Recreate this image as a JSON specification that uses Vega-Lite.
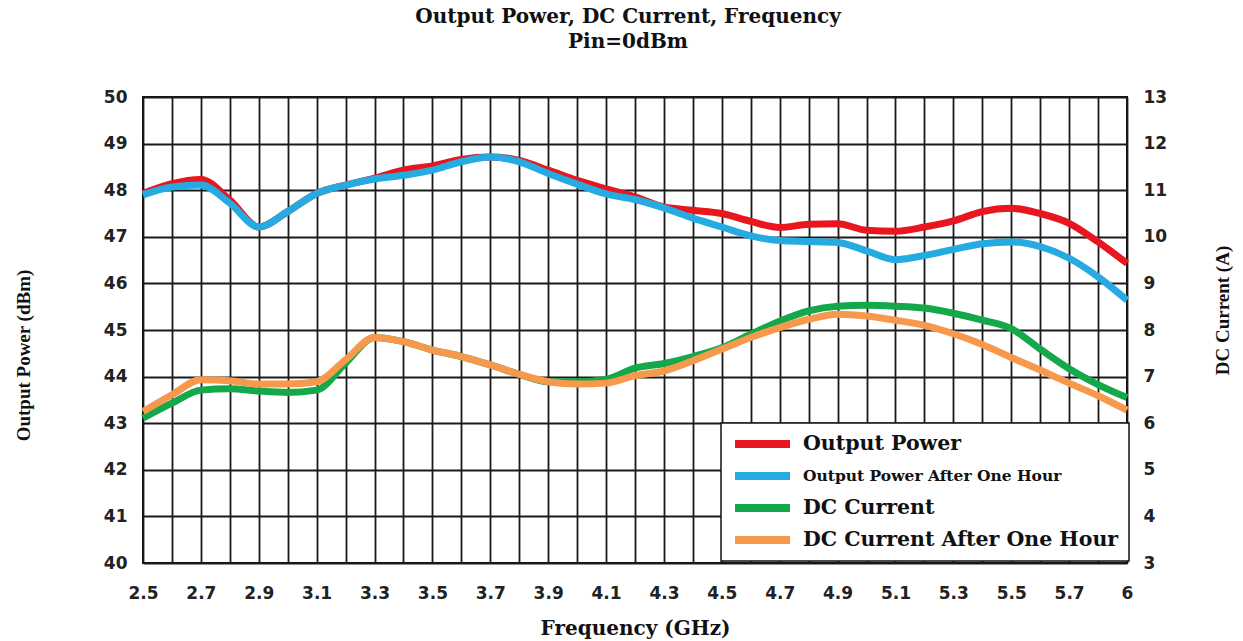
{
  "$schema": "https://vega.github.io/schema/vega-lite/v6.json",
  "width": 984,
  "height": 466,
  "autosize": {"type": "none"},
  "padding": {"left": 143, "top": 97, "right": 116, "bottom": 78},
  "background": "white",
  "title": {
    "text": "Output Power, DC  Current, Frequency",
    "subtitle": "Pin=0dBm",
    "font": "DejaVu Serif",
    "fontSize": 20,
    "fontWeight": "bold",
    "color": "#111",
    "subtitleFont": "DejaVu Serif",
    "subtitleFontSize": 20,
    "subtitleFontWeight": "bold",
    "subtitleColor": "#111",
    "subtitlePadding": 5,
    "offset": 36,
    "dx": -7,
    "anchor": "middle"
  },
  "config": {
    "view": {"stroke": "#111", "strokeWidth": 2},
    "axis": {
      "labelFont": "DejaVu Sans",
      "labelFontWeight": "bold",
      "labelFontSize": 17,
      "labelColor": "#222",
      "titleFont": "Liberation Serif",
      "titleFontWeight": "bold",
      "titleFontSize": 19,
      "titleColor": "#111",
      "ticks": false,
      "domain": false,
      "gridColor": "#1a1a1a",
      "gridWidth": 1.8,
      "gridOpacity": 1
    }
  },
  "datasets": {
    "power": [
      {"f": 2.5, "s": "Output Power", "v": 47.93},
      {"f": 2.6, "s": "Output Power", "v": 48.14},
      {"f": 2.7, "s": "Output Power", "v": 48.23},
      {"f": 2.8, "s": "Output Power", "v": 47.79},
      {"f": 2.9, "s": "Output Power", "v": 47.21},
      {"f": 3.0, "s": "Output Power", "v": 47.54},
      {"f": 3.1, "s": "Output Power", "v": 47.93},
      {"f": 3.2, "s": "Output Power", "v": 48.11},
      {"f": 3.3, "s": "Output Power", "v": 48.26},
      {"f": 3.4, "s": "Output Power", "v": 48.43},
      {"f": 3.5, "s": "Output Power", "v": 48.52},
      {"f": 3.6, "s": "Output Power", "v": 48.66},
      {"f": 3.7, "s": "Output Power", "v": 48.71},
      {"f": 3.8, "s": "Output Power", "v": 48.64},
      {"f": 3.9, "s": "Output Power", "v": 48.43},
      {"f": 4.0, "s": "Output Power", "v": 48.21},
      {"f": 4.1, "s": "Output Power", "v": 48.03},
      {"f": 4.2, "s": "Output Power", "v": 47.86},
      {"f": 4.3, "s": "Output Power", "v": 47.64},
      {"f": 4.4, "s": "Output Power", "v": 47.57},
      {"f": 4.5, "s": "Output Power", "v": 47.5},
      {"f": 4.6, "s": "Output Power", "v": 47.33},
      {"f": 4.7, "s": "Output Power", "v": 47.2},
      {"f": 4.8, "s": "Output Power", "v": 47.27},
      {"f": 4.9, "s": "Output Power", "v": 47.28},
      {"f": 5.0, "s": "Output Power", "v": 47.14},
      {"f": 5.1, "s": "Output Power", "v": 47.12},
      {"f": 5.2, "s": "Output Power", "v": 47.21},
      {"f": 5.3, "s": "Output Power", "v": 47.34},
      {"f": 5.4, "s": "Output Power", "v": 47.54},
      {"f": 5.5, "s": "Output Power", "v": 47.61},
      {"f": 5.6, "s": "Output Power", "v": 47.5},
      {"f": 5.7, "s": "Output Power", "v": 47.29},
      {"f": 5.8, "s": "Output Power", "v": 46.89},
      {"f": 6.0, "s": "Output Power", "v": 46.43},
      {"f": 2.5, "s": "Output Power After One Hour", "v": 47.9},
      {"f": 2.6, "s": "Output Power After One Hour", "v": 48.07},
      {"f": 2.7, "s": "Output Power After One Hour", "v": 48.11},
      {"f": 2.8, "s": "Output Power After One Hour", "v": 47.72},
      {"f": 2.9, "s": "Output Power After One Hour", "v": 47.21},
      {"f": 3.0, "s": "Output Power After One Hour", "v": 47.54},
      {"f": 3.1, "s": "Output Power After One Hour", "v": 47.93},
      {"f": 3.2, "s": "Output Power After One Hour", "v": 48.11},
      {"f": 3.3, "s": "Output Power After One Hour", "v": 48.24},
      {"f": 3.4, "s": "Output Power After One Hour", "v": 48.32},
      {"f": 3.5, "s": "Output Power After One Hour", "v": 48.43},
      {"f": 3.6, "s": "Output Power After One Hour", "v": 48.61},
      {"f": 3.7, "s": "Output Power After One Hour", "v": 48.71},
      {"f": 3.8, "s": "Output Power After One Hour", "v": 48.61},
      {"f": 3.9, "s": "Output Power After One Hour", "v": 48.36},
      {"f": 4.0, "s": "Output Power After One Hour", "v": 48.13},
      {"f": 4.1, "s": "Output Power After One Hour", "v": 47.92},
      {"f": 4.2, "s": "Output Power After One Hour", "v": 47.8},
      {"f": 4.3, "s": "Output Power After One Hour", "v": 47.62},
      {"f": 4.4, "s": "Output Power After One Hour", "v": 47.4},
      {"f": 4.5, "s": "Output Power After One Hour", "v": 47.21},
      {"f": 4.6, "s": "Output Power After One Hour", "v": 47.02},
      {"f": 4.7, "s": "Output Power After One Hour", "v": 46.92},
      {"f": 4.8, "s": "Output Power After One Hour", "v": 46.9},
      {"f": 4.9, "s": "Output Power After One Hour", "v": 46.88},
      {"f": 5.0, "s": "Output Power After One Hour", "v": 46.7},
      {"f": 5.1, "s": "Output Power After One Hour", "v": 46.51},
      {"f": 5.2, "s": "Output Power After One Hour", "v": 46.6},
      {"f": 5.3, "s": "Output Power After One Hour", "v": 46.73},
      {"f": 5.4, "s": "Output Power After One Hour", "v": 46.85},
      {"f": 5.5, "s": "Output Power After One Hour", "v": 46.89},
      {"f": 5.6, "s": "Output Power After One Hour", "v": 46.79},
      {"f": 5.7, "s": "Output Power After One Hour", "v": 46.54},
      {"f": 5.8, "s": "Output Power After One Hour", "v": 46.14},
      {"f": 6.0, "s": "Output Power After One Hour", "v": 45.64}
    ],
    "current": [
      {"f": 2.5, "s": "DC Current", "v": 6.11},
      {"f": 2.6, "s": "DC Current", "v": 6.43},
      {"f": 2.7, "s": "DC Current", "v": 6.71},
      {"f": 2.8, "s": "DC Current", "v": 6.74},
      {"f": 2.9, "s": "DC Current", "v": 6.69},
      {"f": 3.0, "s": "DC Current", "v": 6.66},
      {"f": 3.1, "s": "DC Current", "v": 6.71},
      {"f": 3.2, "s": "DC Current", "v": 7.29},
      {"f": 3.3, "s": "DC Current", "v": 7.84},
      {"f": 3.4, "s": "DC Current", "v": 7.75},
      {"f": 3.5, "s": "DC Current", "v": 7.57},
      {"f": 3.6, "s": "DC Current", "v": 7.43},
      {"f": 3.7, "s": "DC Current", "v": 7.25},
      {"f": 3.8, "s": "DC Current", "v": 7.05},
      {"f": 3.9, "s": "DC Current", "v": 6.89},
      {"f": 4.0, "s": "DC Current", "v": 6.89},
      {"f": 4.1, "s": "DC Current", "v": 6.94},
      {"f": 4.2, "s": "DC Current", "v": 7.18},
      {"f": 4.3, "s": "DC Current", "v": 7.28},
      {"f": 4.4, "s": "DC Current", "v": 7.43},
      {"f": 4.5, "s": "DC Current", "v": 7.62},
      {"f": 4.6, "s": "DC Current", "v": 7.91},
      {"f": 4.7, "s": "DC Current", "v": 8.19},
      {"f": 4.8, "s": "DC Current", "v": 8.41},
      {"f": 4.9, "s": "DC Current", "v": 8.51},
      {"f": 5.0, "s": "DC Current", "v": 8.53},
      {"f": 5.1, "s": "DC Current", "v": 8.51},
      {"f": 5.2, "s": "DC Current", "v": 8.47},
      {"f": 5.3, "s": "DC Current", "v": 8.36},
      {"f": 5.4, "s": "DC Current", "v": 8.21},
      {"f": 5.5, "s": "DC Current", "v": 8.03},
      {"f": 5.6, "s": "DC Current", "v": 7.59},
      {"f": 5.7, "s": "DC Current", "v": 7.17},
      {"f": 5.8, "s": "DC Current", "v": 6.83},
      {"f": 6.0, "s": "DC Current", "v": 6.55},
      {"f": 2.5, "s": "DC Current After One Hour", "v": 6.25},
      {"f": 2.6, "s": "DC Current After One Hour", "v": 6.61},
      {"f": 2.7, "s": "DC Current After One Hour", "v": 6.93},
      {"f": 2.8, "s": "DC Current After One Hour", "v": 6.91},
      {"f": 2.9, "s": "DC Current After One Hour", "v": 6.84},
      {"f": 3.0, "s": "DC Current After One Hour", "v": 6.84},
      {"f": 3.1, "s": "DC Current After One Hour", "v": 6.89},
      {"f": 3.2, "s": "DC Current After One Hour", "v": 7.36},
      {"f": 3.3, "s": "DC Current After One Hour", "v": 7.84},
      {"f": 3.4, "s": "DC Current After One Hour", "v": 7.75},
      {"f": 3.5, "s": "DC Current After One Hour", "v": 7.57},
      {"f": 3.6, "s": "DC Current After One Hour", "v": 7.43},
      {"f": 3.7, "s": "DC Current After One Hour", "v": 7.25},
      {"f": 3.8, "s": "DC Current After One Hour", "v": 7.05},
      {"f": 3.9, "s": "DC Current After One Hour", "v": 6.89},
      {"f": 4.0, "s": "DC Current After One Hour", "v": 6.84},
      {"f": 4.1, "s": "DC Current After One Hour", "v": 6.86},
      {"f": 4.2, "s": "DC Current After One Hour", "v": 7.02},
      {"f": 4.3, "s": "DC Current After One Hour", "v": 7.12},
      {"f": 4.4, "s": "DC Current After One Hour", "v": 7.34},
      {"f": 4.5, "s": "DC Current After One Hour", "v": 7.59},
      {"f": 4.6, "s": "DC Current After One Hour", "v": 7.84},
      {"f": 4.7, "s": "DC Current After One Hour", "v": 8.05},
      {"f": 4.8, "s": "DC Current After One Hour", "v": 8.23},
      {"f": 4.9, "s": "DC Current After One Hour", "v": 8.34},
      {"f": 5.0, "s": "DC Current After One Hour", "v": 8.3},
      {"f": 5.1, "s": "DC Current After One Hour", "v": 8.21},
      {"f": 5.2, "s": "DC Current After One Hour", "v": 8.1},
      {"f": 5.3, "s": "DC Current After One Hour", "v": 7.92},
      {"f": 5.4, "s": "DC Current After One Hour", "v": 7.69},
      {"f": 5.5, "s": "DC Current After One Hour", "v": 7.41},
      {"f": 5.6, "s": "DC Current After One Hour", "v": 7.14},
      {"f": 5.7, "s": "DC Current After One Hour", "v": 6.86},
      {"f": 5.8, "s": "DC Current After One Hour", "v": 6.59},
      {"f": 6.0, "s": "DC Current After One Hour", "v": 6.28}
    ]
  },
  "encoding": {
    "x": {
      "field": "f",
      "type": "quantitative",
      "scale": {"domain": [2.5, 5.8, 6.0], "range": [0, 955.06, 984], "nice": false, "zero": false},
      "axis": {
        "title": "Frequency (GHz)",
        "titleFont": "DejaVu Serif",
        "titleFontSize": 20,
        "values": [2.5, 2.6, 2.7, 2.8, 2.9, 3.0, 3.1, 3.2, 3.3, 3.4, 3.5, 3.6, 3.7, 3.8, 3.9, 4.0, 4.1, 4.2, 4.3, 4.4, 4.5, 4.6, 4.7, 4.8, 4.9, 5.0, 5.1, 5.2, 5.3, 5.4, 5.5, 5.6, 5.7, 5.8, 6.0],
        "format": ".1f",
        "labelExpr": "datum.value == 6 ? '6' : (indexof(['2.5','2.7','2.9','3.1','3.3','3.5','3.7','3.9','4.1','4.3','4.5','4.7','4.9','5.1','5.3','5.5','5.7'], datum.label) >= 0 ? datum.label : '')",
        "labelFlush": false,
        "labelOverlap": false,
        "labelPadding": 30,
        "labelBaseline": "middle",
        "grid": true,
        "titleY": 65,
        "titleBaseline": "middle"
      }
    },
    "color": {
      "field": "s",
      "type": "nominal",
      "scale": {
        "domain": ["Output Power", "Output Power After One Hour", "DC Current", "DC Current After One Hour"],
        "range": ["#e8161e", "#26aae2", "#15a84a", "#f7994c"]
      },
      "legend": {
        "title": null,
        "orient": "none",
        "legendX": 578,
        "legendY": 326,
        "symbolType": "stroke",
        "symbolSize": 3025,
        "symbolStrokeWidth": 8,
        "clipHeight": 22,
        "rowPadding": 10,
        "labelOffset": 9,
        "padding": 10,
        "fillColor": "white",
        "strokeColor": "#111",
        "cornerRadius": 0,
        "labelFont": "DejaVu Serif",
        "labelFontWeight": "bold",
        "labelFontSize": 20.5,
        "labelColor": "#111",
        "labelLimit": 500,
        "encode": {
          "legend": {
            "update": {
              "strokeWidth": {"value": 1.5}
            }
          },
          "labels": {
            "update": {
              "fontSize": {"signal": "datum.label === 'Output Power After One Hour' ? 15.5 : 20.5"}
            }
          }
        }
      }
    }
  },
  "layer": [
    {
      "data": {"name": "power"},
      "mark": {"type": "line", "strokeWidth": 7, "interpolate": "monotone"},
      "encoding": {
        "y": {
          "field": "v",
          "type": "quantitative",
          "scale": {"domain": [40, 50], "nice": false, "zero": false},
          "axis": {
            "orient": "left",
            "title": "Output Power (dBm)",
            "values": [40, 41, 42, 43, 44, 45, 46, 47, 48, 49, 50],
            "grid": true,
            "labelPadding": 16,
            "titleAngle": 270,
            "titleX": -120,
            "titleY": 258,
            "titleBaseline": "middle"
          }
        }
      }
    },
    {
      "data": {"name": "current"},
      "mark": {"type": "line", "strokeWidth": 7, "interpolate": "monotone"},
      "encoding": {
        "y": {
          "field": "v",
          "type": "quantitative",
          "scale": {"domain": [3, 13], "nice": false, "zero": false},
          "axis": {
            "orient": "right",
            "title": "DC Current (A)",
            "values": [3, 4, 5, 6, 7, 8, 9, 10, 11, 12, 13],
            "grid": false,
            "labelPadding": 16,
            "titleAngle": 270,
            "titleX": 95,
            "titleY": 213,
            "titleBaseline": "middle"
          }
        }
      }
    }
  ],
  "resolve": {"scale": {"y": "independent"}, "axis": {"y": "independent"}}
}
